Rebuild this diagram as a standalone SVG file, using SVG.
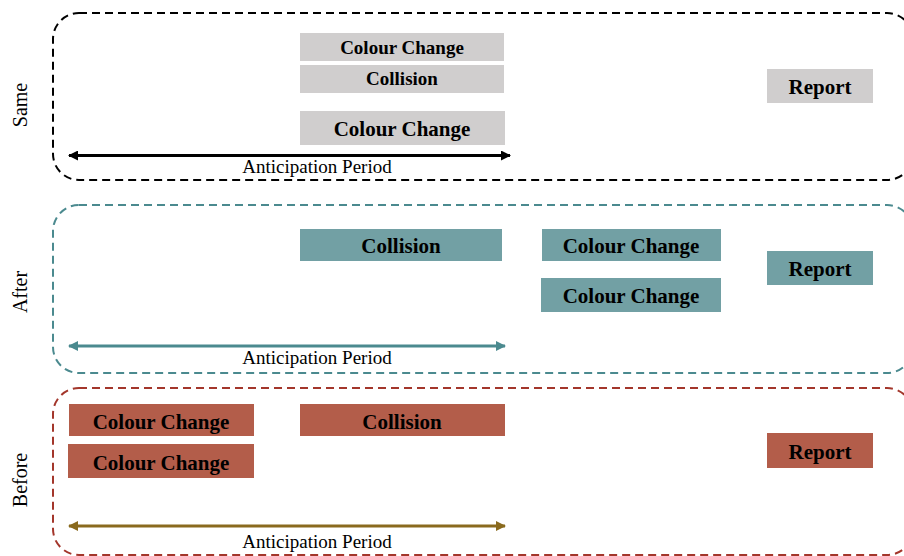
<svg xmlns="http://www.w3.org/2000/svg" width="904" height="556" viewBox="0 0 904 556">
<defs>
<style>
.frame{fill:none;stroke-width:2;stroke-dasharray:8 5}
.gray{fill:#d0cece}
.teal{fill:#72a0a4}
.rust{fill:#b35d4a}
.lbl{font-family:"Liberation Serif","Times New Roman",serif;font-weight:bold;fill:#000;text-anchor:middle}
.per{font-family:"Liberation Serif","Times New Roman",serif;font-size:19px;fill:#000;text-anchor:middle}
.side{font-family:"Liberation Serif","Times New Roman",serif;font-size:20px;fill:#000;text-anchor:middle}
.arr{stroke-width:3;fill:none}
</style>
<marker id="mk" viewBox="0 0 10 10" refX="9" refY="5" markerWidth="12" markerHeight="10" markerUnits="userSpaceOnUse" orient="auto-start-reverse"><path d="M0,0 L10,5 L0,10 z" fill="#000"/></marker>
<marker id="mt" viewBox="0 0 10 10" refX="9" refY="5" markerWidth="12" markerHeight="10" markerUnits="userSpaceOnUse" orient="auto-start-reverse"><path d="M0,0 L10,5 L0,10 z" fill="#4b8a8f"/></marker>
<marker id="mo" viewBox="0 0 10 10" refX="9" refY="5" markerWidth="12" markerHeight="10" markerUnits="userSpaceOnUse" orient="auto-start-reverse"><path d="M0,0 L10,5 L0,10 z" fill="#8a6a1e"/></marker>
</defs>
<rect width="904" height="556" fill="#fff"/>

<g id="frame-same"><rect class="frame" x="53" y="13" width="860" height="167" rx="26" stroke="#000"/><text class="side" transform="translate(27,105) rotate(-90)">Same</text></g>
<g id="frame-after"><rect class="frame" x="53" y="205" width="860" height="168" rx="26" stroke="#4b8a8f"/><text class="side" transform="translate(27,292) rotate(-90)">After</text></g>
<g id="frame-before"><rect class="frame" x="53" y="388" width="860" height="167" rx="26" stroke="#a3362b"/><text class="side" transform="translate(27,480) rotate(-90)">Before</text></g>

<g id="same-cc1"><rect class="gray" x="300" y="33" width="204" height="28"/><text class="lbl" x="402" y="54" font-size="19">Colour Change</text></g>
<g id="same-col"><rect class="gray" x="300" y="65" width="204" height="28"/><text class="lbl" x="402" y="85" font-size="19">Collision</text></g>
<g id="same-cc2"><rect class="gray" x="300" y="111" width="205" height="34"/><text class="lbl" x="402" y="136" font-size="21">Colour Change</text></g>
<g id="same-rep"><rect class="gray" x="767" y="69" width="106" height="34"/><text class="lbl" x="820" y="94" font-size="21">Report</text></g>

<g id="after-col"><rect class="teal" x="300" y="229" width="202" height="32"/><text class="lbl" x="401" y="253" font-size="21">Collision</text></g>
<g id="after-cc1"><rect class="teal" x="542" y="229" width="179" height="32"/><text class="lbl" x="631" y="253" font-size="21">Colour Change</text></g>
<g id="after-cc2"><rect class="teal" x="541" y="278" width="180" height="34"/><text class="lbl" x="631" y="303" font-size="21">Colour Change</text></g>
<g id="after-rep"><rect class="teal" x="767" y="251" width="106" height="34"/><text class="lbl" x="820" y="276" font-size="21">Report</text></g>

<g id="before-cc1"><rect class="rust" x="69" y="404" width="185" height="32"/><text class="lbl" x="161" y="429" font-size="21">Colour Change</text></g>
<g id="before-cc2"><rect class="rust" x="68" y="444" width="186" height="34"/><text class="lbl" x="161" y="470" font-size="21">Colour Change</text></g>
<g id="before-col"><rect class="rust" x="300" y="404" width="205" height="32"/><text class="lbl" x="402" y="429" font-size="21">Collision</text></g>
<g id="before-rep"><rect class="rust" x="767" y="433" width="106" height="35"/><text class="lbl" x="820" y="459" font-size="21">Report</text></g>

<g id="connectors">
<line class="arr" x1="69" y1="155.5" x2="510" y2="155.5" stroke="#000" marker-start="url(#mk)" marker-end="url(#mk)"/>
<line class="arr" x1="69" y1="346" x2="505" y2="346" stroke="#4b8a8f" marker-start="url(#mt)" marker-end="url(#mt)"/>
<line class="arr" x1="69" y1="526" x2="505" y2="526" stroke="#8a6a1e" marker-start="url(#mo)" marker-end="url(#mo)"/>
<text class="per" x="317" y="173">Anticipation Period</text>
<text class="per" x="317" y="364">Anticipation Period</text>
<text class="per" x="317" y="548">Anticipation Period</text>
</g>
</svg>
